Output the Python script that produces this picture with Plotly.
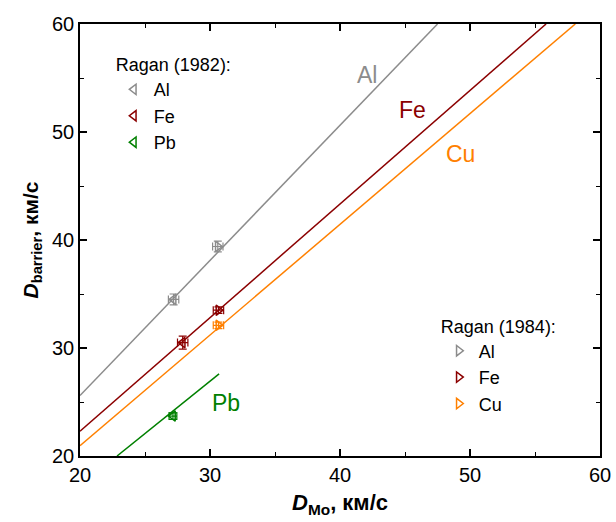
import plotly.graph_objects as go

FONT = "Arial, Liberation Sans, sans-serif"

# colours
C_AL = "#8c8c8c"
C_FE = "#8b0000"
C_CU = "#ff8000"
C_PB = "#008000"

# Ragan (1982) data (left triangles)
r82_names = ["Al", "Fe", "Pb"]
r82_x = [27.2, 27.9, 27.15]
r82_y = [34.5, 30.5, 23.7]
r82_xerr = [0.4, 0.4, 0.3]
r82_yerr = [0.5, 0.6, 0.3]
r82_colors = [C_AL, C_FE, C_PB]

# Ragan (1984) data (right triangles)
r84_names = ["Al", "Fe", "Cu"]
r84_x = [30.6, 30.65, 30.65]
r84_y = [39.4, 33.5, 32.1]
r84_xerr = [0.4, 0.4, 0.4]
r84_yerr = [0.5, 0.3, 0.3]
r84_colors = [C_AL, C_FE, C_CU]

# fit lines (endpoints)
line_names = ["Al", "Fe", "Cu", "Pb"]
line_x = [[20, 47.5], [20, 55.85], [20, 58.1], [22.85, 30.7]]
line_y = [[25.6, 60], [22.3, 60], [20.95, 60], [20, 27.6]]
line_colors = [C_AL, C_FE, C_CU, C_PB]

# in-plot labels
lab_text = ["Al", "Fe", "Cu", "Pb"]
lab_x = [42.1, 45.6, 49.3, 31.2]
lab_y = [55.3, 52.0, 48.0, 24.9]
lab_colors = [C_AL, C_FE, C_CU, C_PB]

fig = go.Figure()

for xs, ys, c in zip(line_x, line_y, line_colors):
    fig.add_trace(go.Scatter(x=xs, y=ys, mode="lines",
                             line=dict(color=c, width=1.5),
                             showlegend=False, hoverinfo="skip"))

for n, x, y, ex, ey, c in zip(r82_names, r82_x, r82_y, r82_xerr, r82_yerr, r82_colors):
    fig.add_trace(go.Scatter(
        x=[x], y=[y], mode="markers", name=n, legend="legend",
        marker=dict(symbol="triangle-left-open", size=9, color=c, line=dict(width=1.5, color=c)),
        error_x=dict(type="data", array=[ex], color=c, thickness=1.2, width=4),
        error_y=dict(type="data", array=[ey], color=c, thickness=1.2, width=4)))

for n, x, y, ex, ey, c in zip(r84_names, r84_x, r84_y, r84_xerr, r84_yerr, r84_colors):
    fig.add_trace(go.Scatter(
        x=[x], y=[y], mode="markers", name=n, legend="legend2",
        marker=dict(symbol="triangle-right-open", size=9, color=c, line=dict(width=1.5, color=c)),
        error_x=dict(type="data", array=[ex], color=c, thickness=1.2, width=4),
        error_y=dict(type="data", array=[ey], color=c, thickness=1.2, width=4)))

for t, x, y, c in zip(lab_text, lab_x, lab_y, lab_colors):
    fig.add_annotation(x=x, y=y, text=t, showarrow=False,
                       font=dict(family=FONT, size=23, color=c))

axis_common = dict(
    showline=True, linecolor="black", linewidth=1.5, mirror="ticks",
    ticks="inside", ticklen=7, tickwidth=1.5, tickcolor="black",
    showgrid=False, zeroline=False, automargin=False,
    tickfont=dict(family=FONT, size=20, color="black"),
    minor=dict(ticks="inside", ticklen=4, tickwidth=1.2, tickcolor="black", dtick=5),
)

fig.update_xaxes(range=[20, 60], dtick=10, tick0=20,
                 title=dict(text="<b><i>D</i><sub>Mo</sub>, км/с</b>",
                            font=dict(family=FONT, size=22, color="black"), standoff=10),
                 **axis_common)
fig.update_yaxes(range=[20, 60], dtick=10, tick0=20,
                 title=dict(text="<b><i>D</i><sub>barrier</sub>, км/с</b>",
                            font=dict(family=FONT, size=21, color="black"), standoff=8),
                 **axis_common)

legend_common = dict(font=dict(family=FONT, size=18, color="black"),
                     bgcolor="rgba(0,0,0,0)", borderwidth=0,
                     xanchor="left", yanchor="top", tracegroupgap=0,
                     itemwidth=30)

fig.update_layout(
    width=616, height=522,
    margin=dict(l=80, r=16, t=24, b=66, autoexpand=False),
    plot_bgcolor="white", paper_bgcolor="white",
    font=dict(family=FONT, color="black"),
    legend=dict(x=0.065, y=0.945,
                title=dict(text="Ragan (1982):", font=dict(family=FONT, size=18, color="black")),
                **legend_common),
    legend2=dict(x=0.69, y=0.34,
                 title=dict(text="Ragan (1984):", font=dict(family=FONT, size=18, color="black")),
                 **legend_common),
)

fig.write_html("out.html")
